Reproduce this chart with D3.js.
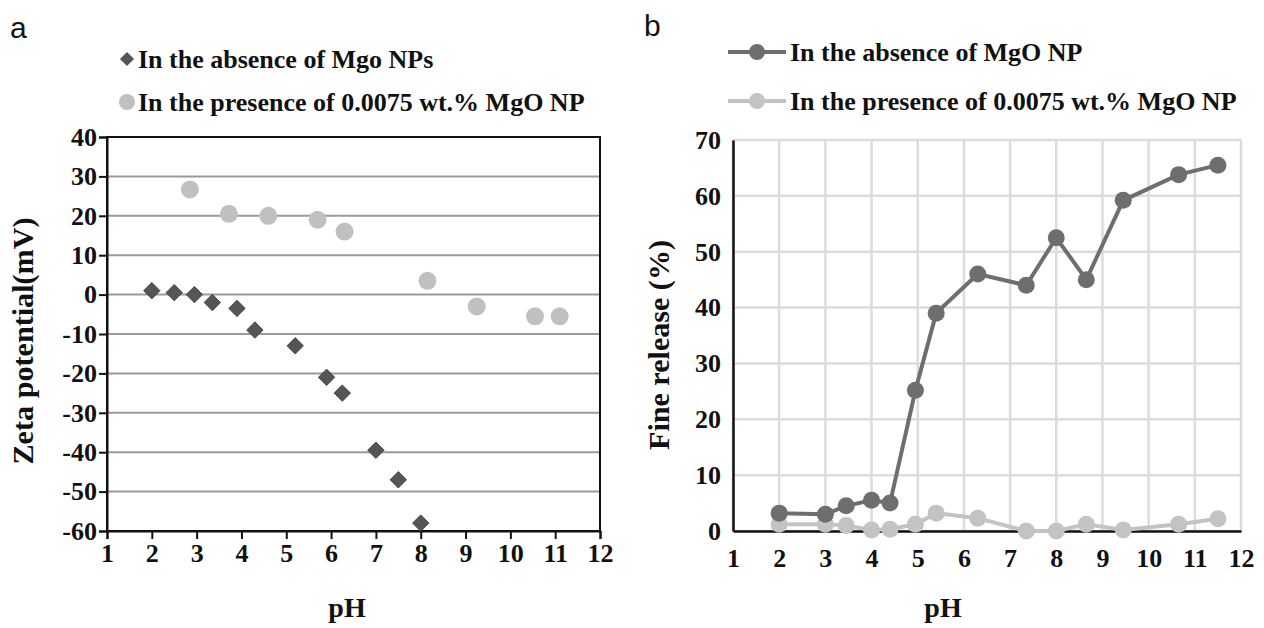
<!DOCTYPE html>
<html><head><meta charset="utf-8">
<script src="https://cdn.jsdelivr.net/npm/d3@7"></script>
<style>body{margin:0;background:#fff}svg{display:block}</style>
</head><body>
<svg id="c" width="1264" height="628"></svg>
<script>
// Panel a: zeta potential
const zetaAbsPH = [2, 2.5, 2.95, 3.35, 3.9, 4.3, 5.2, 5.9, 6.25, 7, 7.5, 8];
const zetaAbsVal = [1, 0.5, 0, -2, -3.5, -9, -13, -21, -25, -39.5, -47, -58];
const zetaPresPH = [2.85, 3.72, 4.6, 5.7, 6.3, 8.15, 9.25, 10.55, 11.1];
const zetaPresVal = [26.7, 20.5, 20, 19, 16, 3.5, -3, -5.5, -5.5];
const zetaTicks = [-60, -50, -40, -30, -20, -10, 0, 10, 20, 30, 40];
// Panel b: fine release
const relAbsPH = [2, 3, 3.45, 4, 4.4, 4.95, 5.4, 6.3, 7.35, 8, 8.65, 9.45, 10.65, 11.5];
const relAbsVal = [3.2, 3, 4.5, 5.5, 5, 25.2, 39, 46, 44, 52.5, 45, 59.2, 63.8, 65.5];
const relPresPH = [2, 3, 3.45, 4, 4.4, 4.95, 5.4, 6.3, 7.35, 8, 8.65, 9.45, 10.65, 11.5];
const relPresVal = [1.2, 1.2, 1, 0.2, 0.3, 1.2, 3.2, 2.3, 0, 0, 1.2, 0.2, 1.2, 2.2];
const relTicks = [0, 10, 20, 30, 40, 50, 60, 70];
const phTicks = [1, 2, 3, 4, 5, 6, 7, 8, 9, 10, 11, 12];

const svg = d3.select("#c");
const serif = "'Liberation Serif','Times New Roman',serif";
const darkA = "#555555", lightA = "#c0c0c0";
const darkB = "#6e6e6e", lightB = "#c3c3c3";
const fmt = d => String(d);

function styleText(sel, size){ sel.attr("font-family", serif).attr("font-weight","bold").attr("font-size", size).attr("fill","#111"); }

// ---------- Panel a ----------
{
  const x = d3.scaleLinear().domain([1, 12]).range([107, 600]);
  const y = d3.scaleLinear().domain([-60, 40]).range([531, 137]);
  const g = svg.append("g");
  g.selectAll("line.grid").data(zetaTicks).join("line")
    .attr("x1", x(1)).attr("x2", x(12)).attr("y1", d=>y(d)).attr("y2", d=>y(d))
    .attr("stroke", "#9a9a9a").attr("stroke-width", 2);
  g.append("rect").attr("x", x(1)).attr("y", y(40)).attr("width", x(12)-x(1)).attr("height", y(-60)-y(40))
    .attr("fill","none").attr("stroke","#111").attr("stroke-width",2);
  const xa = g.append("g").attr("transform",`translate(0,${y(-60)})`)
    .call(d3.axisBottom(x).tickValues(phTicks).tickFormat(fmt).tickSize(8).tickPadding(5));
  const ya = g.append("g").attr("transform",`translate(${x(1)},0)`)
    .call(d3.axisLeft(y).tickValues(zetaTicks).tickFormat(fmt).tickSize(8).tickPadding(2));
  [xa, ya].forEach(a=>{ a.select(".domain").attr("stroke","#111").attr("stroke-width",2);
    a.selectAll(".tick line").attr("stroke","#111").attr("stroke-width",2);
    styleText(a.selectAll("text"), 26); });
  g.selectAll("circle.pres").data(zetaPresPH).join("circle")
    .attr("cx", d=>x(d)).attr("cy", (d,i)=>y(zetaPresVal[i])).attr("r", 9).attr("fill", lightA);
  const dia = d3.symbol().type(d3.symbolSquare).size(135);
  g.selectAll("path.abs").data(zetaAbsPH).join("path")
    .attr("d", dia).attr("transform", (d,i)=>`translate(${x(d)},${y(zetaAbsVal[i])}) rotate(45)`)
    .attr("fill", darkA).attr("stroke","#3a3a3a").attr("stroke-width",0.8);
  styleText(g.append("text").attr("x", 347).attr("y", 617).attr("text-anchor","middle").text("pH"), 28);
  styleText(g.append("text").attr("transform","translate(33,341) rotate(-90)").attr("text-anchor","middle")
    .attr("textLength", 247).attr("lengthAdjust","spacingAndGlyphs").text("Zeta potential(mV)"), 30);
  // legend
  g.append("path").attr("d", d3.symbol().type(d3.symbolSquare).size(100)).attr("transform","translate(127,59) rotate(45)").attr("fill",darkA);
  styleText(g.append("text").attr("x",138).attr("y",68).text("In the absence of Mgo NPs"), 26);
  g.append("circle").attr("cx",127).attr("cy",102).attr("r",8).attr("fill",lightA);
  styleText(g.append("text").attr("x",138).attr("y",111).text("In the presence of 0.0075 wt.% MgO NP"), 26);
  svg.append("text").attr("x",10).attr("y",38).attr("font-family","'Liberation Sans',Arial,sans-serif").attr("font-size",30).attr("fill","#111").text("a");
}

// ---------- Panel b ----------
{
  const x = d3.scaleLinear().domain([1, 12]).range([733, 1241]);
  const y = d3.scaleLinear().domain([0, 70]).range([531, 140]);
  const g = svg.append("g");
  g.selectAll("line.gy").data(relTicks).join("line")
    .attr("x1", x(1)).attr("x2", x(12)).attr("y1", d=>y(d)).attr("y2", d=>y(d))
    .attr("stroke", "#dcdcdc").attr("stroke-width", 2.5);
  g.selectAll("line.gx").data(phTicks).join("line")
    .attr("x1", d=>x(d)).attr("x2", d=>x(d)).attr("y1", y(0)).attr("y2", y(70))
    .attr("stroke", "#dcdcdc").attr("stroke-width", 2.5);
  const xa = g.append("g").attr("transform",`translate(0,${y(0)})`)
    .call(d3.axisBottom(x).tickValues(phTicks).tickFormat(fmt).tickSize(0).tickPadding(18));
  const ya = g.append("g").attr("transform",`translate(${x(1)},0)`)
    .call(d3.axisLeft(y).tickValues(relTicks).tickFormat(fmt).tickSize(0).tickPadding(12));
  [xa, ya].forEach(a=>{ a.select(".domain").attr("stroke","#111").attr("stroke-width",2.5);
    styleText(a.selectAll("text"), 26); });
  const line = d3.line().x(d=>x(d[0])).y(d=>y(d[1]));
  const series = [
    {ph: relPresPH, v: relPresVal, c: lightB},
    {ph: relAbsPH, v: relAbsVal, c: darkB}
  ];
  series.forEach(s=>{
    const pts = s.ph.map((p,i)=>[p, s.v[i]]);
    g.append("path").attr("d", line(pts)).attr("fill","none").attr("stroke", s.c).attr("stroke-width",4);
    g.selectAll(null).data(pts).join("circle").attr("cx", d=>x(d[0])).attr("cy", d=>y(d[1])).attr("r", 8.5).attr("fill", s.c);
  });
  styleText(g.append("text").attr("x", 943).attr("y", 617).attr("text-anchor","middle").text("pH"), 28);
  styleText(g.append("text").attr("transform","translate(669,345) rotate(-90)").attr("text-anchor","middle")
    .attr("textLength", 210).attr("lengthAdjust","spacingAndGlyphs").text("Fine release (%)"), 30);
  [[52, darkB, "In the absence of MgO NP"], [101, lightB, "In the presence of 0.0075 wt.% MgO NP"]].forEach(([yy, c, t])=>{
    g.append("line").attr("x1",728).attr("x2",786).attr("y1",yy).attr("y2",yy).attr("stroke",c).attr("stroke-width",4);
    g.append("circle").attr("cx",757).attr("cy",yy).attr("r",8).attr("fill",c);
    styleText(g.append("text").attr("x",790).attr("y",yy+9).text(t), 26);
  });
  svg.append("text").attr("x",644).attr("y",36).attr("font-family","'Liberation Sans',Arial,sans-serif").attr("font-size",30).attr("fill","#111").text("b");
}
</script>
</body></html>
